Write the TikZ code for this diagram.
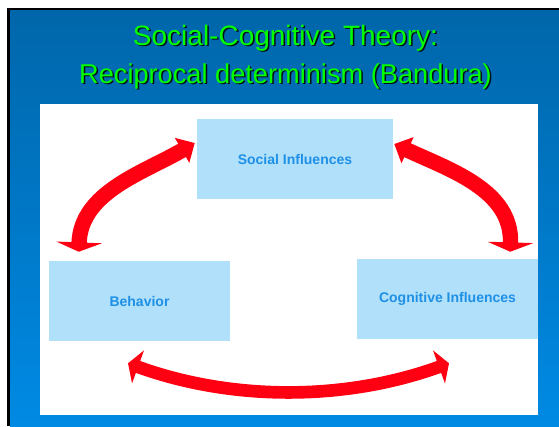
\documentclass[tikz,border=0pt]{standalone}
\usepackage{fontspec}
\setmainfont{Liberation Sans}
\usetikzlibrary{arrows.meta,calc}

\definecolor{slideblue}{RGB}{0,102,170}
\definecolor{slidebluelow}{RGB}{0,138,228}
\definecolor{titlegreen}{RGB}{0,255,0}
\definecolor{boxblue}{RGB}{176,224,250}
\definecolor{labelblue}{RGB}{30,144,230}
\definecolor{arrowred}{RGB}{255,0,18}

\begin{document}
\begin{tikzpicture}[x=0.75pt,y=0.75pt,yscale=-1,xscale=1,
  infobox/.style={fill=boxblue, text=labelblue, inner sep=0pt, minimum height=60pt, font=\bfseries\fontsize{10.5}{12.6}\selectfont},
  titletext/.style={anchor=base, inner sep=0pt, font=\fontsize{21}{25}\selectfont},
  recip/.style={draw=arrowred, line width=11.5pt}]
\useasboundingbox (0,0) rectangle (559,426);

%Slide background
\fill [white] (0,0) rectangle (559,426);
\fill [black] (7,8) rectangle (559,426);
\shade [top color=slideblue, bottom color=slidebluelow] (10,10) rectangle (559,426);
%White panel
\fill [white] (40,104) rectangle (538,415);

% Title
\node [titletext, text=black, opacity=0.85] (titleshadowA) at (287,46.5) {Social-Cognitive Theory:};
\node [titletext, text=titlegreen] (titleA) at (285.5,45) {Social-Cognitive Theory:};
\node [titletext, text=black, opacity=0.85, font=\fontsize{20.4}{25}\selectfont] (titleshadowB) at (287,84.5) {Reciprocal determinism (Bandura)};
\node [titletext, text=titlegreen, font=\fontsize{20.4}{25}\selectfont] (titleB) at (285.5,83) {Reciprocal determinism (Bandura)};

% Boxes
\node [infobox, minimum width=147pt] (social) at (295,159) {Social Influences};
\node [infobox, minimum width=135.75pt] (behavior) at (139.5,301) {Behavior};
\node [infobox, minimum width=135.75pt] (cognitive) at (447.5,299) {Cognitive Influences};

% Curved arrows
\draw [recip, {Triangle[width=21pt,length=11pt]}-{Triangle[width=34pt,length=7pt]}] ($(social.west)+(-2,-16)$) .. controls (143,173) and (81,192) .. ($(behavior.north west)+(30,-9)$);
\draw [recip, {Triangle[width=21pt,length=11pt]}-{Triangle[width=34pt,length=7pt]}] ($(social.east)+(1,-15)$) .. controls (450,170) and (512,190) .. ($(cognitive.north east)+(-28,-7)$);
\draw [recip, line width=9.5pt, {Triangle[width=26pt,length=8pt]}-{Triangle[width=26pt,length=8pt]}] ($(behavior.south)+(-11.5,22)$) .. controls (232,401) and (345,401) .. ($(cognitive.south)+(1.5,24)$);

\end{tikzpicture}
\end{document}
